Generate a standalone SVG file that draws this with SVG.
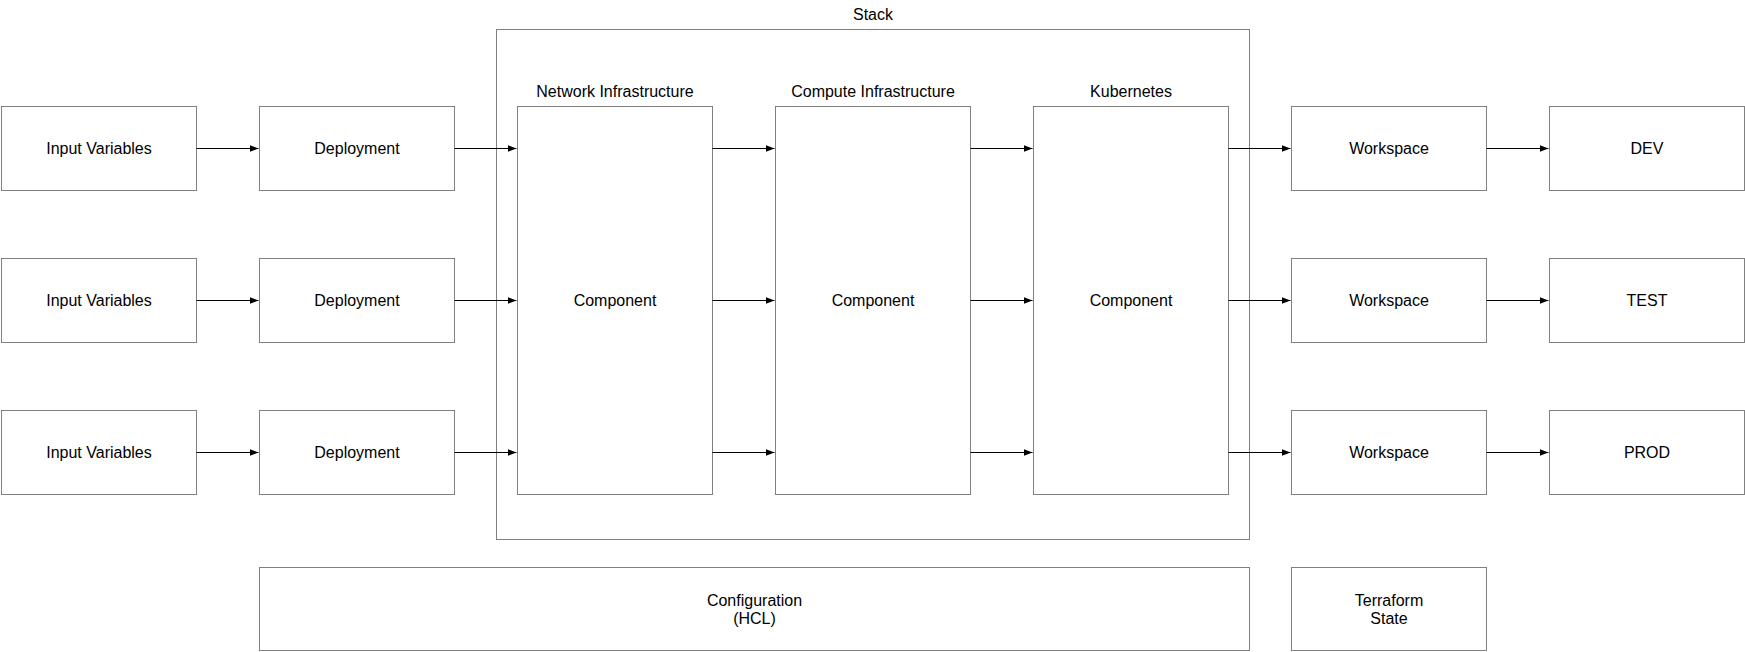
<svg xmlns="http://www.w3.org/2000/svg" width="1745" height="652" viewBox="0 0 1745 652">
<defs>
<style>
.box{fill:#ffffff;stroke:#808080;stroke-width:1}
.frame{fill:none;stroke:#808080;stroke-width:1}
.t{font-family:"Liberation Sans",Arial,Helvetica,sans-serif;font-size:16px;fill:#000000;text-anchor:middle}
.c{stroke:#000000;stroke-width:1;fill:none;marker-end:url(#ah)}
</style>
<marker id="ah" markerUnits="userSpaceOnUse" markerWidth="10" markerHeight="8" refX="9" refY="3.5" orient="auto">
<path d="M0,0 L9,3.5 L0,7 Z" fill="#000000"/>
</marker>
</defs>
<rect width="1745" height="652" fill="#ffffff"/>
<g id="stack">
<rect class="frame" x="496.5" y="29.5" width="753" height="510"/>
<text class="t" x="873" y="20">Stack</text>
</g>
<g id="iv1"><rect class="box" x="1.5" y="106.5" width="195" height="84"/><text class="t" x="99" y="154">Input Variables</text></g>
<g id="iv2"><rect class="box" x="1.5" y="258.5" width="195" height="84"/><text class="t" x="99" y="306">Input Variables</text></g>
<g id="iv3"><rect class="box" x="1.5" y="410.5" width="195" height="84"/><text class="t" x="99" y="458">Input Variables</text></g>
<g id="dep1"><rect class="box" x="259.5" y="106.5" width="195" height="84"/><text class="t" x="357" y="154">Deployment</text></g>
<g id="dep2"><rect class="box" x="259.5" y="258.5" width="195" height="84"/><text class="t" x="357" y="306">Deployment</text></g>
<g id="dep3"><rect class="box" x="259.5" y="410.5" width="195" height="84"/><text class="t" x="357" y="458">Deployment</text></g>
<g id="net"><rect class="box" x="517.5" y="106.5" width="195" height="388"/><text class="t" x="615" y="97">Network Infrastructure</text><text class="t" x="615" y="306">Component</text></g>
<g id="comp"><rect class="box" x="775.5" y="106.5" width="195" height="388"/><text class="t" x="873" y="97">Compute Infrastructure</text><text class="t" x="873" y="306">Component</text></g>
<g id="k8s"><rect class="box" x="1033.5" y="106.5" width="195" height="388"/><text class="t" x="1131" y="97">Kubernetes</text><text class="t" x="1131" y="306">Component</text></g>
<g id="ws1"><rect class="box" x="1291.5" y="106.5" width="195" height="84"/><text class="t" x="1389" y="154">Workspace</text></g>
<g id="ws2"><rect class="box" x="1291.5" y="258.5" width="195" height="84"/><text class="t" x="1389" y="306">Workspace</text></g>
<g id="ws3"><rect class="box" x="1291.5" y="410.5" width="195" height="84"/><text class="t" x="1389" y="458">Workspace</text></g>
<g id="dev"><rect class="box" x="1549.5" y="106.5" width="195" height="84"/><text class="t" x="1647" y="154">DEV</text></g>
<g id="test"><rect class="box" x="1549.5" y="258.5" width="195" height="84"/><text class="t" x="1647" y="306">TEST</text></g>
<g id="prod"><rect class="box" x="1549.5" y="410.5" width="195" height="84"/><text class="t" x="1647" y="458">PROD</text></g>
<g id="config"><rect class="box" x="259.5" y="567.5" width="990" height="83"/><text class="t" x="754.5" y="605.5">Configuration</text><text class="t" x="754.5" y="624">(HCL)</text></g>
<g id="tfstate"><rect class="box" x="1291.5" y="567.5" width="195" height="83"/><text class="t" x="1389" y="605.5">Terraform</text><text class="t" x="1389" y="624">State</text></g>
<g id="connectors">
<line class="c" x1="196.5" y1="148.5" x2="258.5" y2="148.5"/>
<line class="c" x1="196.5" y1="300.5" x2="258.5" y2="300.5"/>
<line class="c" x1="196.5" y1="452.5" x2="258.5" y2="452.5"/>
<line class="c" x1="454.5" y1="148.5" x2="516.5" y2="148.5"/>
<line class="c" x1="454.5" y1="300.5" x2="516.5" y2="300.5"/>
<line class="c" x1="454.5" y1="452.5" x2="516.5" y2="452.5"/>
<line class="c" x1="712.5" y1="148.5" x2="774.5" y2="148.5"/>
<line class="c" x1="712.5" y1="300.5" x2="774.5" y2="300.5"/>
<line class="c" x1="712.5" y1="452.5" x2="774.5" y2="452.5"/>
<line class="c" x1="970.5" y1="148.5" x2="1032.5" y2="148.5"/>
<line class="c" x1="970.5" y1="300.5" x2="1032.5" y2="300.5"/>
<line class="c" x1="970.5" y1="452.5" x2="1032.5" y2="452.5"/>
<line class="c" x1="1228.5" y1="148.5" x2="1290.5" y2="148.5"/>
<line class="c" x1="1228.5" y1="300.5" x2="1290.5" y2="300.5"/>
<line class="c" x1="1228.5" y1="452.5" x2="1290.5" y2="452.5"/>
<line class="c" x1="1486.5" y1="148.5" x2="1548.5" y2="148.5"/>
<line class="c" x1="1486.5" y1="300.5" x2="1548.5" y2="300.5"/>
<line class="c" x1="1486.5" y1="452.5" x2="1548.5" y2="452.5"/>
</g>
</svg>
